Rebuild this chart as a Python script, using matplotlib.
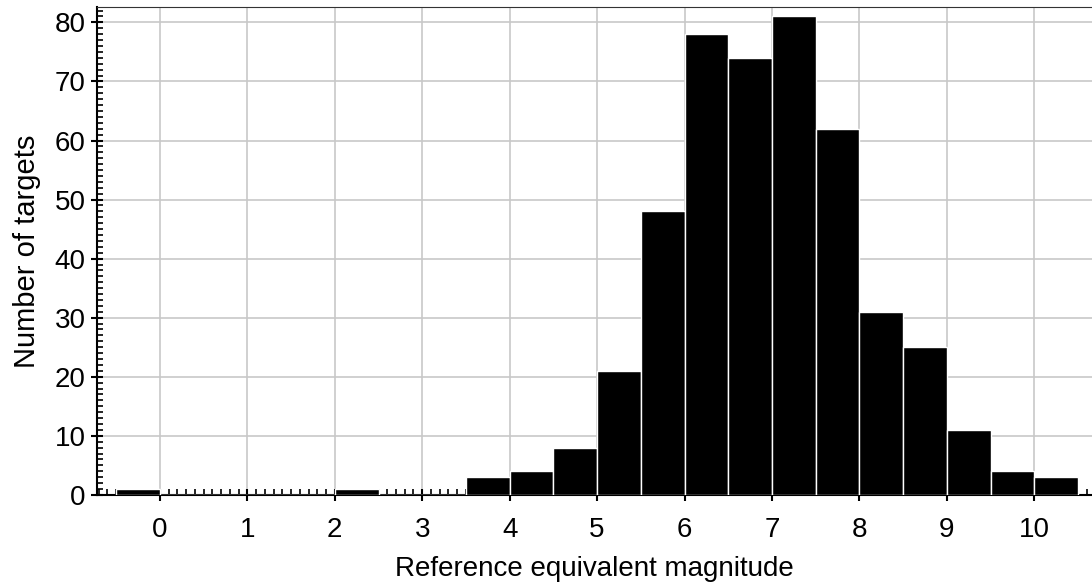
import numpy as np
import matplotlib.pyplot as plt
from matplotlib.ticker import MultipleLocator

plt.rcParams['font.family'] = ['Liberation Sans', 'DejaVu Sans']

# histogram bins (width 0.5) and counts
bin_left = [-0.5, 0.0, 0.5, 1.0, 1.5, 2.0, 2.5, 3.0, 3.5, 4.0, 4.5,
            5.0, 5.5, 6.0, 6.5, 7.0, 7.5, 8.0, 8.5, 9.0, 9.5, 10.0]
counts = [1, 0, 0, 0, 0, 1, 0, 0, 3, 4, 8,
          21, 48, 78, 74, 81, 62, 31, 25, 11, 4, 3]
xticks = list(range(0, 11))
yticks = list(range(0, 81, 10))

fig = plt.figure(figsize=(10.92, 5.87), dpi=100)
ax = fig.add_axes([0.0888, 0.157, 0.9112, 0.831])

ax.bar(bin_left, counts, width=0.5, align='edge', color='black',
       edgecolor='white', linewidth=1, zorder=3)

ax.set_xlim(-0.72, 10.66)
ax.set_ylim(0, 82.6)
ax.set_xticks(xticks)
ax.set_yticks(yticks)
ax.xaxis.set_minor_locator(MultipleLocator(0.1))
ax.yaxis.set_minor_locator(MultipleLocator(1))
ax.grid(True, which='major', color='#c8c8c8', linewidth=1.2, zorder=0)

ax.tick_params(which='major', direction='inout', length=8, width=1.5,
               labelsize=20)
ax.tick_params(axis='x', which='major', pad=12)
ax.tick_params(axis='y', which='major', pad=4)
ax.tick_params(which='minor', direction='in', length=4, width=1.2)
ax.tick_params(top=False, right=False, which='both')

ax.spines['right'].set_visible(False)
ax.spines['top'].set_color('#333333')
ax.spines['left'].set_linewidth(1.5)
ax.spines['bottom'].set_linewidth(1.5)

ax.set_xlabel('Reference equivalent magnitude', fontsize=20, labelpad=9)
ax.set_ylabel('Number of targets', fontsize=21, labelpad=10)

fig.savefig('out.png', dpi=100)
